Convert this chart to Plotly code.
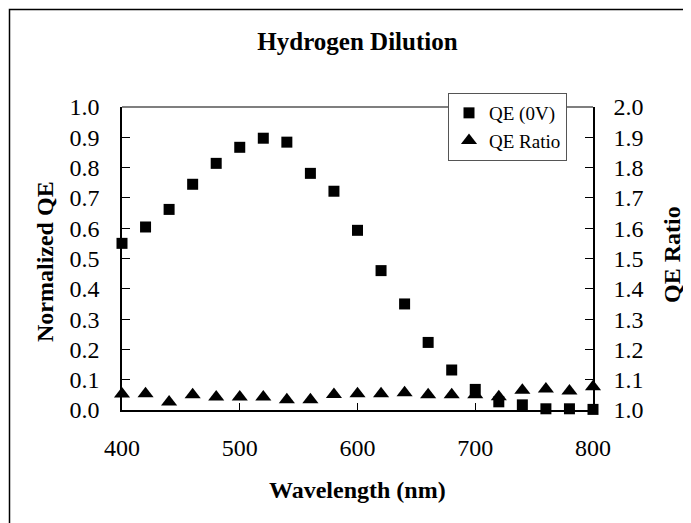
"""QE spectrum and QE ratio for the hydrogen dilution sample."""
from __future__ import annotations

import plotly.graph_objects as go

wavelength_nm = [400, 420, 440, 460, 480, 500, 520, 540, 560, 580, 600,
                 620, 640, 660, 680, 700, 720, 740, 760, 780, 800]
qe_0v = [0.550, 0.604, 0.662, 0.745, 0.814, 0.867, 0.897, 0.884, 0.781, 0.722, 0.593,
         0.460, 0.350, 0.223, 0.132, 0.068, 0.027, 0.017, 0.004, 0.004, 0.002]
qe_ratio = [1.053, 1.054, 1.026, 1.050, 1.043, 1.043, 1.043, 1.034, 1.034, 1.051, 1.054,
            1.054, 1.057, 1.050, 1.050, 1.050, 1.044, 1.065, 1.069, 1.063, 1.077]

x_ticks = [400, 500, 600, 700, 800]
qe_ticks = [round(0.1 * i, 1) for i in range(11)]
ratio_ticks = [round(1 + 0.1 * i, 1) for i in range(11)]

SERIF = "Liberation Serif, Times New Roman, serif"
AXIS_LINE = "#000000"

# the page body adds an 8px margin, so the figure is sized to fit inside it
FIG_W, FIG_H = 683, 515
PLOT_W, PLOT_H = 471, 303


def axis_style(**extra) -> dict:
    style = dict(
        showgrid=False,
        zeroline=False,
        showline=True,
        linecolor=AXIS_LINE,
        linewidth=1.5,
        ticks="inside",
        ticklen=8,
        tickcolor=AXIS_LINE,
        tickfont=dict(family=SERIF, size=24, color="black"),
    )
    style.update(extra)
    return style


def build_figure() -> go.Figure:
    fig = go.Figure()

    # triangles sit on the base axis, squares on the overlay so they draw on top
    fig.add_trace(go.Scatter(
        x=wavelength_nm, y=qe_ratio, name="QE Ratio", mode="markers",
        marker=dict(symbol="triangle-up", size=14, color="black"),
        yaxis="y", cliponaxis=False, legendrank=2,
    ))
    fig.add_trace(go.Scatter(
        x=wavelength_nm, y=qe_0v, name="QE (0V)", mode="markers",
        marker=dict(symbol="square", size=11, color="black"),
        yaxis="y2", cliponaxis=False, legendrank=1,
    ))

    fig.update_layout(
        width=FIG_W,
        height=FIG_H,
        autosize=False,
        margin=dict(l=114, r=98, t=99, b=113),
        paper_bgcolor="white",
        plot_bgcolor="white",
        font=dict(family=SERIF, color="black"),
        title=dict(
            text="<b>Hydrogen Dilution</b>",
            font=dict(family=SERIF, size=25, color="black"),
            x=0.5, xref="paper", xanchor="center",
            y=1 - 33 / FIG_H, yref="container", yanchor="middle",
        ),
        xaxis=axis_style(
            range=[400, 800], tickvals=x_ticks, ticklen=7, ticklabelstandoff=15,
        ),
        yaxis=axis_style(
            range=[1.0, 2.0], side="right", tickvals=ratio_ticks,
            tickformat=".1f", ticklabelstandoff=14,
        ),
        yaxis2=axis_style(
            range=[0.0, 1.0], side="left", overlaying="y", tickvals=qe_ticks,
            tickformat=".1f", ticklabelstandoff=16,
        ),
        legend=dict(
            x=(448 - 122) / PLOT_W, y=(410 - 93) / PLOT_H,
            xanchor="left", yanchor="top",
            bgcolor="white", bordercolor="#555555", borderwidth=1,
            font=dict(family=SERIF, size=19, color="black"),
            itemwidth=30, tracegroupgap=0,
        ),
        showlegend=True,
    )

    # axis titles placed by hand, matching the reference layout
    title_font = dict(family=SERIF, size=24, color="black")
    common = dict(xref="paper", yref="paper", xanchor="center", yanchor="middle",
                  showarrow=False, font=title_font)
    fig.add_annotation(text="<b>Normalized QE</b>", textangle=-90,
                       x=(45 - 122) / PLOT_W, y=(410 - 262) / PLOT_H, **common)
    fig.add_annotation(text="<b>QE Ratio</b>", textangle=-90,
                       x=(672 - 122) / PLOT_W, y=(410 - 255) / PLOT_H, **common)
    fig.add_annotation(text="<b>Wavelength (nm)</b>",
                       x=0.5, y=(410 - 490) / PLOT_H, **common)

    # plot-area top edge and the outer chart frame
    fig.add_shape(type="line", xref="paper", yref="paper", x0=0, x1=1, y0=1, y1=1,
                  line=dict(color="#555555", width=1.5))
    fig.add_shape(type="rect", xref="paper", yref="paper",
                  x0=(9.5 - 122) / PLOT_W, x1=(688 - 122) / PLOT_W,
                  y0=(410 - 540) / PLOT_H, y1=(410 - 9.5) / PLOT_H,
                  line=dict(color="black", width=1.5), layer="below")
    return fig


def main() -> None:
    fig = build_figure()
    fig.write_html("out.html")


if __name__ == "__main__":
    main()
